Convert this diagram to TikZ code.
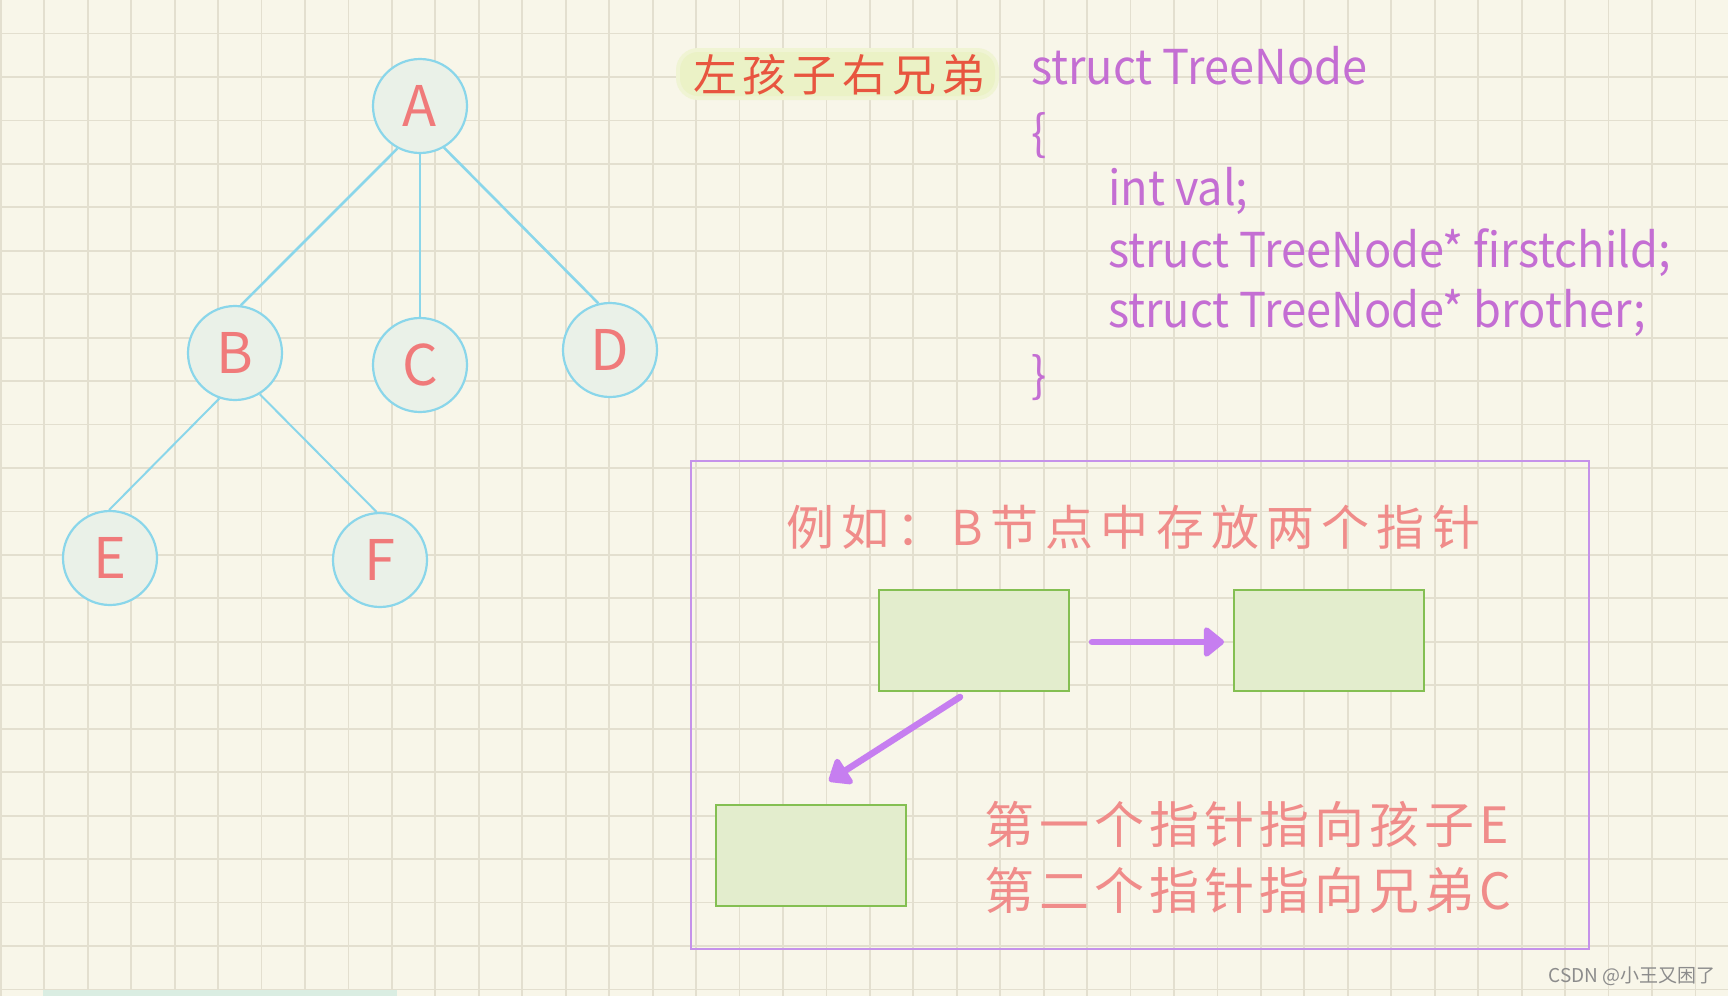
\documentclass[tikz,border=0pt]{standalone}
\usepackage{fontspec}
\newfontfamily\cjk{Noto Sans CJK SC}
\newfontfamily\cjkcode[FakeStretch=0.94]{Noto Sans CJK SC}
\usetikzlibrary{arrows.meta}
\definecolor{bgc}{HTML}{F8F6E9}
\definecolor{gridc}{HTML}{E3DFCF}
\definecolor{cyanc}{HTML}{8AD6EA}
\definecolor{circfill}{HTML}{EAF1E8}
\definecolor{salmon}{HTML}{F07A7A}
\definecolor{pinkt}{HTML}{F08C8A}
\definecolor{redt}{HTML}{E8553F}
\definecolor{purplet}{HTML}{C46ED3}
\definecolor{framec}{HTML}{C592EA}
\definecolor{arrowc}{HTML}{C67EF0}
\definecolor{greenc}{HTML}{84BF52}
\definecolor{greenfill}{HTML}{E3EDCD}
\definecolor{hilite}{HTML}{EBF2C6}
\definecolor{tealband}{HTML}{DAEDE2}
\definecolor{wmark}{HTML}{8C8C8C}
\begin{document}
\begin{tikzpicture}[x=1pt,y=-1pt,
  gridline/.style={draw=gridc,line width=1.8pt},
  treenode/.style={circle,draw=cyanc,line width=2.2pt,fill=circfill,minimum size=94pt,inner sep=0pt,
    text=salmon,font=\cjk\fontsize{56}{56}\selectfont},
  treeedge/.style={draw=cyanc,line width=2.6pt},
  codetext/.style={anchor=base west,inner sep=0pt,text=purplet,font=\cjkcode\fontsize{48}{48}\selectfont},
  cell/.style={draw=greenc,line width=2pt,fill=greenfill,minimum width=190pt,minimum height=101pt,inner sep=0pt},
  ptr/.style={draw=arrowc,line width=6.5pt,line cap=round,-{Triangle[length=22pt,width=34pt,round]}},
  note/.style={anchor=west,inner sep=0pt,text=pinkt}
]
\useasboundingbox (0,0) rectangle (1728,996);
\fill[bgc] (0,0) rectangle (1728,996);
\foreach \i in {0,...,39} \draw[gridline] ({0.85+43.45*\i},0) -- ({0.85+43.45*\i},996);
\foreach \j in {-1,...,22} \draw[gridline] (0,{33.5+43.45*\j}) -- (1728,{33.5+43.45*\j});
\fill[tealband] (43,990) rectangle (397,996);

% tree
\node[treenode] (A) at (420,106) {A};
\node[treenode] (B) at (235,353) {B};
\node[treenode] (C) at (420,365) {C};
\node[treenode] (D) at (610,350) {D};
\node[treenode] (E) at (110,558) {E};
\node[treenode] (F) at (380,560) {F};
\draw[treeedge] (A.242) -- (B.83);
\draw[treeedge] (A.south) -- (C.north);
\draw[treeedge] (A.300) -- (D.104);
\draw[treeedge,line width=2pt] (B.251) -- (E.91);
\draw[treeedge,line width=2pt] (B.301) -- (F.94);

% title with highlight
\fill[hilite!60!bgc,rounded corners=22pt] (676,48) rectangle (999,100);
\fill[hilite,rounded corners=18pt] (680,52) rectangle (995,96);
\node[anchor=west,inner sep=0pt,text=redt,font=\cjk\fontsize{44}{44}\selectfont\addfontfeature{LetterSpace=13}] (title) at (693,75) {左孩子右兄弟};

% code
\node[codetext] (l1) at (1031,84) {struct TreeNode};
\node[codetext] (l2) at (1031,150) {\{};
\node[codetext] (l3) at (1108,205) {int val;};
\node[codetext] (l4) at (1108,267) {struct TreeNode* firstchild;};
\node[codetext] (l5) at (1108,327) {struct TreeNode* brother;};
\node[codetext] (l6) at (1031,392) {\}};

% frame
\node[draw=framec,line width=2.4pt,minimum width=898pt,minimum height=488pt,inner sep=0pt] (frame) at (1140,705) {};
\node[note,font=\cjk\fontsize{48}{48}\selectfont\addfontfeature{LetterSpace=15}] (ex) at (786,527) {例如：B节点中存放两个指针};
\node[cell] (b1) at (974,640.5) {};
\node[cell] (b2) at (1329,640.5) {};
\node[cell] (b3) at (810.5,855) {};
\coordinate (p1s) at (1092,642);
\coordinate (p1e) at (1224,642);
\coordinate (p2s) at (960,697);
\coordinate (p2e) at (829,781);
\draw[ptr] (p1s) -- (p1e);
\draw[ptr] (p2s) -- (p2e);
\node[note,font=\cjk\fontsize{50}{50}\selectfont\addfontfeature{LetterSpace=10}] (n1) at (984,824) {第一个指针指向孩子E};
\node[note,font=\cjk\fontsize{50}{50}\selectfont\addfontfeature{LetterSpace=10}] (n2) at (984,890) {第二个指针指向兄弟C};

\node[anchor=east,inner sep=0pt,text=wmark,font=\cjk\fontsize{19}{19}\selectfont] (wm) at (1716,976) {CSDN @小王又困了};
\end{tikzpicture}
\end{document}
